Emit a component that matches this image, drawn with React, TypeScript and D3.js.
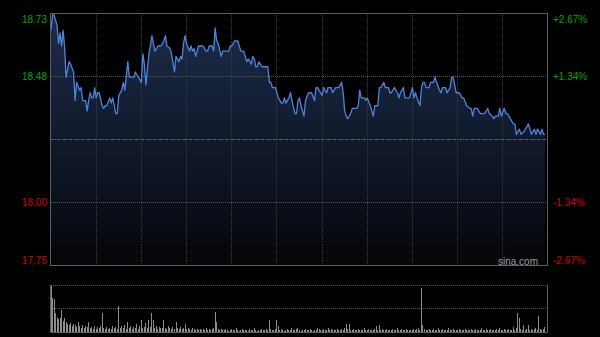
import React from "react";
import * as d3 from "d3";

// ---- data ----
const preClose = 18.24;
const pctLevels = [0.0267, 0.01335, -0.01335, -0.0267];
const priceLabels = ["18.73", "18.48", "18.00", "17.75"];
const pctLabels = ["+2.67%", "+1.34%", "-1.34%", "-2.67%"];
const sessionMinutes = 330; // HK session: 09:30-12:00, 13:00-16:00
const gridMinutes = [30, 60, 90, 120, 150, 180, 210, 240, 270, 300];

const minutes = [
  0, 1, 2, 4, 5, 6, 7, 8, 9, 10, 11, 12, 13, 15, 16, 17, 19, 20, 21, 23,
  24, 25, 26, 27, 28, 29, 30, 31, 32, 34, 35, 36, 37, 39, 40, 41, 42, 43, 44, 45,
  47, 48, 49, 51, 52, 55, 56, 58, 60, 61, 62, 63, 65, 66, 67, 69, 71, 73, 75, 76,
  77, 79, 80, 82, 83, 85, 86, 87, 88, 89, 90, 92, 93, 94, 95, 96, 98, 101, 103, 104,
  105, 107, 108, 109, 110, 111, 113, 114, 118, 119, 120, 122, 124, 126, 128, 129, 130, 131, 133, 134,
  135, 136, 137, 138, 140, 143, 144, 145, 146, 147, 149, 150, 151, 153, 154, 155, 156, 158, 159, 160,
  162, 163, 164, 165, 166, 168, 169, 171, 173, 175, 176, 177, 179, 180, 181, 183, 184, 186, 187, 189,
  191, 193, 194, 195, 196, 197, 199, 200, 203, 204, 205, 206, 208, 209, 210, 212, 213, 214, 215, 217,
  218, 219, 221, 222, 224, 225, 226, 228, 230, 231, 232, 234, 235, 237, 238, 240, 241, 242, 243, 245,
  246, 247, 248, 249, 251, 252, 254, 255, 256, 258, 259, 260, 262, 263, 265, 266, 267, 269, 271, 273,
  274, 276, 278, 279, 280, 281, 283, 285, 288, 290, 291, 293, 294, 295, 297, 298, 299, 301, 302, 303,
  305, 307, 308, 309, 311, 312, 314, 315, 317, 318, 319, 321, 322, 323, 325, 326, 327, 328,
];

const prices = [
  18.66, 18.72, 18.72, 18.68, 18.61, 18.65, 18.6, 18.66, 18.6, 18.48, 18.51, 18.54, 18.53, 18.5, 18.39, 18.46, 18.43, 18.44, 18.39, 18.39,
  18.35, 18.39, 18.42, 18.4, 18.4, 18.44, 18.4, 18.42, 18.42, 18.37, 18.36, 18.37, 18.37, 18.4, 18.38, 18.4, 18.37, 18.34, 18.34, 18.41,
  18.43, 18.46, 18.43, 18.54, 18.48, 18.48, 18.5, 18.48, 18.46, 18.57, 18.53, 18.45, 18.57, 18.6, 18.64, 18.58, 18.6, 18.6, 18.62, 18.64,
  18.6, 18.59, 18.57, 18.5, 18.56, 18.54, 18.56, 18.55, 18.61, 18.64, 18.61, 18.58, 18.6, 18.58, 18.59, 18.56, 18.6, 18.6, 18.58, 18.58,
  18.6, 18.6, 18.58, 18.67, 18.62, 18.61, 18.56, 18.58, 18.58, 18.6, 18.6, 18.62, 18.62, 18.58, 18.58, 18.56, 18.54, 18.55, 18.53, 18.56,
  18.55, 18.52, 18.52, 18.54, 18.52, 18.52, 18.52, 18.46, 18.46, 18.44, 18.44, 18.42, 18.4, 18.38, 18.38, 18.4, 18.38, 18.4, 18.42, 18.39,
  18.34, 18.34, 18.39, 18.4, 18.37, 18.33, 18.39, 18.42, 18.42, 18.39, 18.44, 18.44, 18.42, 18.41, 18.44, 18.42, 18.44, 18.44, 18.42, 18.44,
  18.44, 18.46, 18.42, 18.35, 18.33, 18.32, 18.34, 18.36, 18.36, 18.37, 18.43, 18.4, 18.4, 18.39, 18.4, 18.37, 18.35, 18.33, 18.37, 18.37,
  18.44, 18.44, 18.46, 18.44, 18.44, 18.42, 18.42, 18.44, 18.42, 18.4, 18.42, 18.44, 18.4, 18.4, 18.4, 18.44, 18.4, 18.42, 18.4, 18.37,
  18.44, 18.46, 18.46, 18.44, 18.44, 18.46, 18.46, 18.48, 18.46, 18.43, 18.42, 18.44, 18.44, 18.42, 18.44, 18.48, 18.48, 18.42, 18.42, 18.4,
  18.4, 18.37, 18.36, 18.36, 18.33, 18.36, 18.36, 18.34, 18.34, 18.36, 18.34, 18.33, 18.32, 18.33, 18.33, 18.36, 18.33, 18.36, 18.34, 18.34,
  18.32, 18.3, 18.3, 18.26, 18.28, 18.26, 18.27, 18.28, 18.3, 18.28, 18.26, 18.28, 18.26, 18.28, 18.26, 18.28, 18.26, 18.26,
];

// per-minute volume, minutes 0..328
const volumes = [
  460, 340, 330, 190, 140, 130, 140, 220, 110, 140,
  100, 80, 70, 90, 60, 80, 70, 50, 100, 60,
  40, 70, 40, 60, 50, 100, 40, 50, 30, 60,
  30, 50, 40, 60, 190, 40, 30, 50, 30, 40,
  30, 60, 40, 50, 30, 260, 40, 60, 40, 70,
  30, 100, 40, 60, 30, 50, 40, 80, 30, 60,
  120, 40, 50, 90, 40, 120, 50, 190, 120, 40,
  60, 30, 50, 40, 40, 120, 40, 30, 60, 40,
  30, 50, 30, 100, 40, 30, 50, 30, 40, 80,
  30, 40, 30, 20, 40, 30, 20, 30, 20, 30,
  20, 30, 20, 40, 20, 30, 20, 30, 40, 200,
  100, 30, 20, 30, 20, 20, 30, 20, 10, 20,
  30, 20, 20, 40, 20, 10, 20, 30, 20, 20,
  20, 10, 30, 20, 20, 40, 20, 10, 20, 20,
  30, 20, 20, 30, 20, 120, 30, 20, 20, 30,
  120, 60, 20, 30, 20, 10, 20, 30, 20, 20,
  40, 20, 20, 30, 40, 20, 10, 20, 20, 30,
  20, 20, 30, 20, 10, 20, 20, 40, 30, 20,
  20, 30, 20, 20, 40, 20, 30, 20, 20, 20,
  30, 20, 20, 30, 20, 40, 80, 30, 80, 20,
  20, 30, 20, 20, 30, 20, 20, 20, 40, 20,
  20, 30, 20, 20, 20, 30, 60, 20, 70, 20,
  30, 20, 20, 30, 20, 20, 20, 30, 20, 20,
  40, 20, 20, 30, 20, 20, 30, 20, 20, 20,
  20, 30, 20, 30, 40, 20, 440, 70, 30, 20,
  20, 30, 20, 20, 30, 20, 20, 40, 20, 20,
  30, 20, 20, 20, 40, 20, 20, 30, 20, 20,
  20, 30, 20, 20, 20, 30, 20, 20, 20, 30,
  20, 20, 30, 20, 20, 20, 40, 20, 20, 30,
  20, 20, 30, 20, 20, 20, 30, 20, 40, 20,
  20, 30, 20, 20, 30, 20, 20, 50, 20, 40,
  190, 140, 30, 20, 70, 20, 30, 70, 20, 30,
  20, 30, 40, 20, 160, 30, 20, 30, 50,
];

// ---- layout ----
const W = 600;
const H = 337;
const L = 51;
const R = 548;
const T = 13;
const B = 266;
const VT = 285.5;
const VB = 332;

const UP = "#00a800";
const DOWN = "#d40000";
const FONT = "'Liberation Sans', Arial, sans-serif";

export default function App() {
  const lo = preClose * (1 - pctLevels[0]);
  const hi = preClose * (1 + pctLevels[0]);
  const x = d3.scaleLinear().domain([0, sessionMinutes]).range([L, R]);
  const y = d3.scaleLinear().domain([lo, hi]).range([B, T]);
  const vy = d3.scaleLinear().domain([0, d3.max(volumes) as number]).range([VB, VT + 0.5]);

  const pts = minutes.map((m, i) => [m, prices[i]] as [number, number]);
  const line = d3
    .line<[number, number]>()
    .x((d) => x(d[0]))
    .y((d) => y(d[1]));
  const area = d3
    .area<[number, number]>()
    .x((d) => x(d[0]))
    .y0(B)
    .y1((d) => y(d[1]));

  const crisp = (v: number) => Math.floor(v) + 0.5;
  const yMid = crisp(y(preClose));

  return (
    <div style={{ position: "fixed", left: 0, top: 0, width: W, height: H, background: "#000" }}>
      <svg width={W} height={H} style={{ display: "block" }}>
        <defs>
          <linearGradient id="fillGrad" gradientUnits="userSpaceOnUse" x1="0" y1={T} x2="0" y2={B}>
            <stop offset="0" stopColor="#1c2c4a" />
            <stop offset="0.45" stopColor="#121c30" />
            <stop offset="1" stopColor="#040509" />
          </linearGradient>
        </defs>
        <rect x={0} y={0} width={W} height={H} fill="#000" />

        {/* price area */}
        <path d={area(pts) || ""} fill="url(#fillGrad)" />

        {/* vertical grid */}
        {gridMinutes.map((m) => (
          <line
            key={"vg" + m}
            x1={crisp(x(m))}
            x2={crisp(x(m))}
            y1={T}
            y2={B}
            stroke="#3a3a3a"
            strokeDasharray="1,1"
          />
        ))}
        {/* horizontal grid */}
        {pctLevels.slice(1, 3).map((p) => (
          <line
            key={"hg" + p}
            x1={L}
            x2={R}
            y1={crisp(y(preClose * (1 + p)))}
            y2={crisp(y(preClose * (1 + p)))}
            stroke="#5a5a5a"
            strokeDasharray="1,1"
          />
        ))}
        <line x1={L} x2={R} y1={yMid} y2={yMid} stroke="#666" strokeDasharray="3,1,1,1" />

        {/* price line */}
        <path d={line(pts) || ""} fill="none" stroke="#4d84d8" strokeWidth={1.3} strokeLinejoin="round" />

        {/* frame */}
        <rect x={L - 0.5} y={T + 0.5} width={R - L} height={B - T - 1} fill="none" stroke="#5e5e5e" />

        {/* watermark */}
        <text x={538} y={265} fontFamily={FONT} fontSize={10} fill="#9a9a9a" textAnchor="end">
          sina.com
        </text>

        {/* left price labels */}
        {pctLevels.map((p, i) => {
          const yy = y(preClose * (1 + p));
          const off = i === 0 ? 6 : i === pctLevels.length - 1 ? -6 : 0;
          return (
            <text
              key={"pl" + i}
              x={47}
              y={yy + off}
              dy="0.35em"
              fontFamily={FONT}
              fontSize={10}
              textAnchor="end"
              fill={p > 0 ? UP : DOWN}
            >
              {priceLabels[i]}
            </text>
          );
        })}
        {/* right percent labels */}
        {pctLevels.map((p, i) => {
          const yy = y(preClose * (1 + p));
          const off = i === 0 ? 6 : i === pctLevels.length - 1 ? -6 : 0;
          return (
            <text
              key={"pr" + i}
              x={553}
              y={yy + off}
              dy="0.35em"
              fontFamily={FONT}
              fontSize={10}
              textAnchor="start"
              fill={p > 0 ? UP : DOWN}
            >
              {pctLabels[i]}
            </text>
          );
        })}

        {/* volume panel */}
        <line x1={L} x2={R} y1={VT} y2={VT} stroke="#5a5a5a" strokeDasharray="1,1" />
        <line
          x1={L}
          x2={R}
          y1={crisp((VT + VB) / 2)}
          y2={crisp((VT + VB) / 2)}
          stroke="#5a5a5a"
          strokeDasharray="1,1"
        />
        {volumes.map((v, i) => (
          <line
            key={"v" + i}
            x1={crisp(x(i))}
            x2={crisp(x(i))}
            y1={VB}
            y2={vy(v)}
            stroke="#8c8c8c"
            strokeWidth={1}
          />
        ))}
        <line x1={L - 0.5} x2={L - 0.5} y1={VT - 0.5} y2={VB + 0.5} stroke="#5e5e5e" />
        <line x1={R - 0.5} x2={R - 0.5} y1={VT - 0.5} y2={VB + 0.5} stroke="#5e5e5e" />
        <line x1={L - 0.5} x2={R - 0.5} y1={VB + 0.5} y2={VB + 0.5} stroke="#5e5e5e" />
      </svg>
    </div>
  );
}
